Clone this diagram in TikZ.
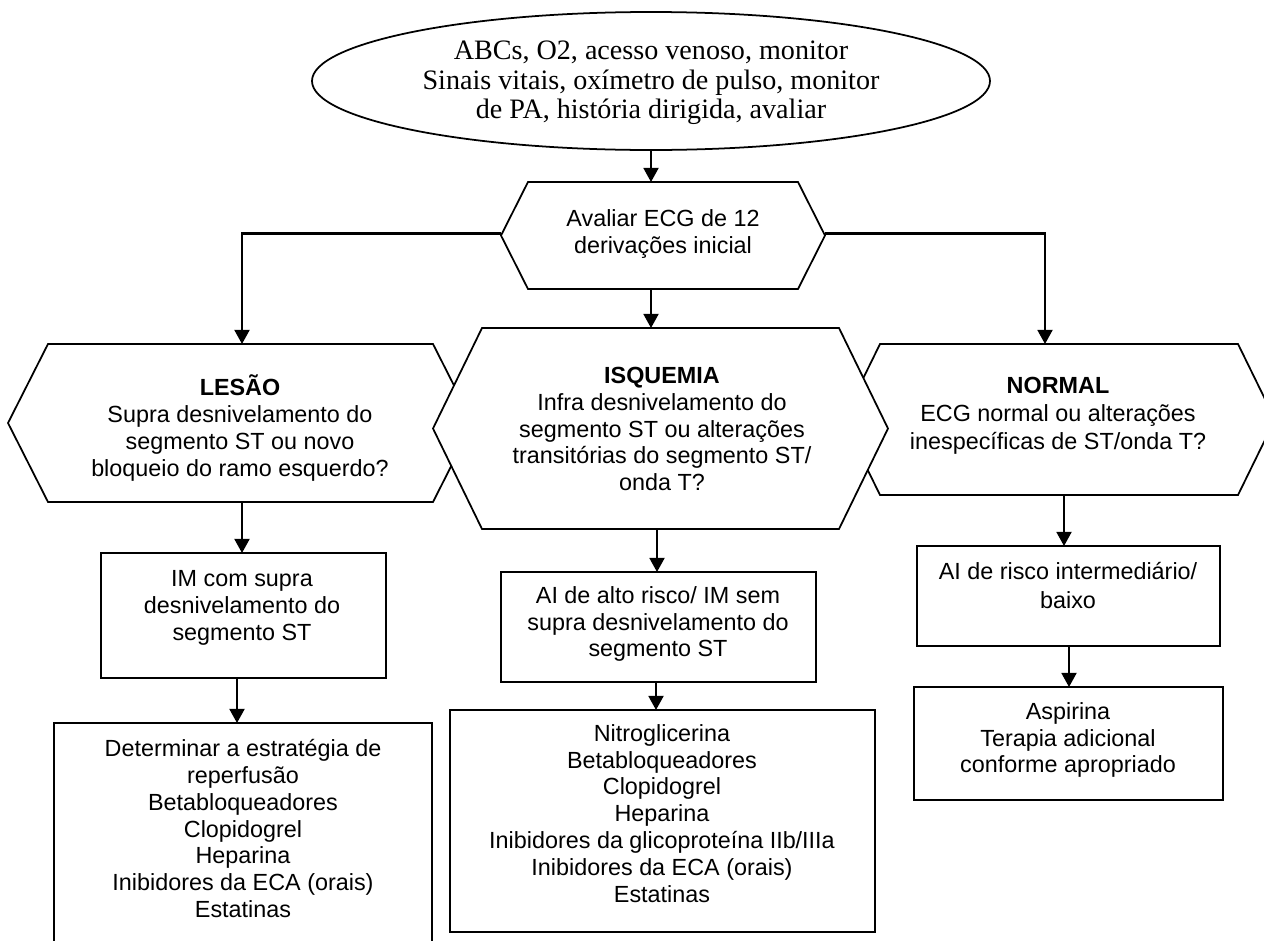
\documentclass[tikz,border=0pt]{standalone}
\usepackage{fontspec}
\setmainfont{Liberation Sans}
\newfontfamily\timesfam{Liberation Serif}
\usetikzlibrary{shapes.geometric,arrows.meta}
\newcommand\pxlen{0.02cm}
\begin{document}
\begin{tikzpicture}[x=0.02cm,y=-0.02cm,
  shp/.style={draw, line width=1pt},
  core/.style={inner sep=0pt, outer sep=0pt, draw=none},
  boxnode/.style={draw, line width=1pt, fill=white, inner sep=0pt, outer sep=0pt},
  txt/.style={inner sep=0pt, align=center, font=\fontsize{13.3}{15.3}\selectfont},
  arr/.style={line width=1.2pt, -{Triangle[width=8.5pt,length=8pt]}},
]
\useasboundingbox (0,0) rectangle (1264,940);
\fill[white] (0,0) rectangle (1264,940);
\clip (0,0) rectangle (1264,940);

% start ellipse
\node[ellipse, shp, minimum width=678*\pxlen, minimum height=138*\pxlen, inner sep=0pt] (start) at (651,81) {};
\node[inner sep=0pt, align=center, font=\timesfam\fontsize{16}{16.9}\selectfont] (starttxt) at (651,83)
  {ABCs, O2, acesso venoso, monitor\\Sinais vitais, oxímetro de pulso, monitor\\de PA, história dirigida, avaliar};

% hexagon cores (the inner rectangle between the pointed ends)
\node[core, minimum width=270*\pxlen, minimum height=107*\pxlen] (ecg) at (663,235.5) {};
\node[core, minimum width=385*\pxlen, minimum height=158*\pxlen] (les) at (240.5,423) {};
\node[core, minimum width=358*\pxlen, minimum height=151*\pxlen] (nor) at (1059,419.5) {};
\node[core, minimum width=357*\pxlen, minimum height=201*\pxlen] (isq) at (660.5,428.5) {};

\draw[shp, fill=white] (ecg.north west) -- (ecg.north east) -- ([xshift=27*\pxlen]ecg.east)
  -- (ecg.south east) -- (ecg.south west) -- ([xshift=-27*\pxlen]ecg.west) -- cycle;
\draw[shp, fill=white] (les.north west) -- (les.north east) -- ([xshift=40*\pxlen]les.east)
  -- (les.south east) -- (les.south west) -- ([xshift=-40*\pxlen]les.west) -- cycle;
\draw[shp, fill=white] (nor.north west) -- (nor.north east) -- ([xshift=37*\pxlen]nor.east)
  -- (nor.south east) -- (nor.south west) -- ([xshift=-37*\pxlen]nor.west) -- cycle;
\draw[shp, fill=white] (isq.north west) -- (isq.north east) -- ([xshift=49*\pxlen]isq.east)
  -- (isq.south east) -- (isq.south west) -- ([xshift=-49*\pxlen]isq.west) -- cycle;

% rectangular boxes
\node[boxnode, minimum width=285*\pxlen, minimum height=125*\pxlen] (im) at (243.5,615.5) {};
\node[boxnode, minimum width=378*\pxlen, minimum height=257*\pxlen] (det) at (243,851.5) {};
\node[boxnode, minimum width=315*\pxlen, minimum height=110*\pxlen] (aia) at (658.5,627) {};
\node[boxnode, minimum width=425*\pxlen, minimum height=222*\pxlen] (nit) at (662.5,821) {};
\node[boxnode, minimum width=303*\pxlen, minimum height=100*\pxlen] (air) at (1068.5,596) {};
\node[boxnode, minimum width=309*\pxlen, minimum height=113*\pxlen] (asp) at (1068.5,743.5) {};

% connectors
\draw[arr] (start.south) -- (start.south |- ecg.north);
\draw[arr] (start.south |- ecg.south) -- (start.south |- isq.north);
\draw[arr] ([xshift=-27*\pxlen,yshift=2*\pxlen]ecg.west) -| ([xshift=1.5*\pxlen]les.north);
\draw[arr] ([xshift=27*\pxlen,yshift=2*\pxlen]ecg.east) -| ([xshift=-14*\pxlen]nor.north);
\draw[arr] ([xshift=1.5*\pxlen]les.south) -- ([xshift=1.5*\pxlen]les.south |- im.north);
\draw[arr] ([xshift=-6.5*\pxlen]im.south) -- ([xshift=-6.5*\pxlen]im.south |- det.north);
\draw[arr] ([xshift=-3.5*\pxlen]isq.south) -- ([xshift=-3.5*\pxlen]isq.south |- aia.north);
\draw[arr] ([xshift=-2.5*\pxlen]aia.south) -- ([xshift=-2.5*\pxlen]aia.south |- nit.north);
\draw[arr] ([xshift=5*\pxlen]nor.south) -- ([xshift=5*\pxlen]nor.south |- air.north);
\draw[arr] ([xshift=0.5*\pxlen]air.south) -- ([xshift=0.5*\pxlen]air.south |- asp.north);

% texts
\node[txt] (ecgtxt) at (663,234) {Avaliar ECG de 12\\derivações inicial};
\node[txt] (lestxt) at (240,428) {\textbf{LESÃO}\\Supra desnivelamento do\\segmento ST ou novo\\bloqueio do ramo esquerdo?};
\node[txt] (isqtxt) at (662,429) {\textbf{ISQUEMIA}\\Infra desnivelamento do\\segmento ST ou alterações\\transitórias do segmento ST/\\onda T?};
\node[txt, font=\fontsize{13.3}{15.9}\selectfont] (nortxt) at (1058,416) {\textbf{NORMAL}\\ECG normal ou alterações\\inespecíficas de ST/onda T?};
\node[txt] (imtxt) at (242,608) {IM com supra\\desnivelamento do\\segmento ST};
\node[txt] (dettxt) at (243,828.5) {Determinar a estratégia de\\reperfusão\\Betabloqueadores\\Clopidogrel\\Heparina\\Inibidores da ECA (orais)\\Estatinas};
\node[txt] (aiatxt) at (658,624) {AI de alto risco/ IM sem\\supra desnivelamento do\\segmento ST};
\node[txt] (nittxt) at (662,813.5) {Nitroglicerina\\Betabloqueadores\\Clopidogrel\\Heparina\\Inibidores da glicoproteína IIb/IIIa\\Inibidores da ECA (orais)\\Estatinas};
\node[txt, font=\fontsize{13.3}{17}\selectfont] (airtxt) at (1068,585.5) {AI de risco intermediário/\\baixo};
\node[txt] (asptxt) at (1068,740) {Aspirina\\Terapia adicional\\conforme apropriado};
\end{tikzpicture}
\end{document}
